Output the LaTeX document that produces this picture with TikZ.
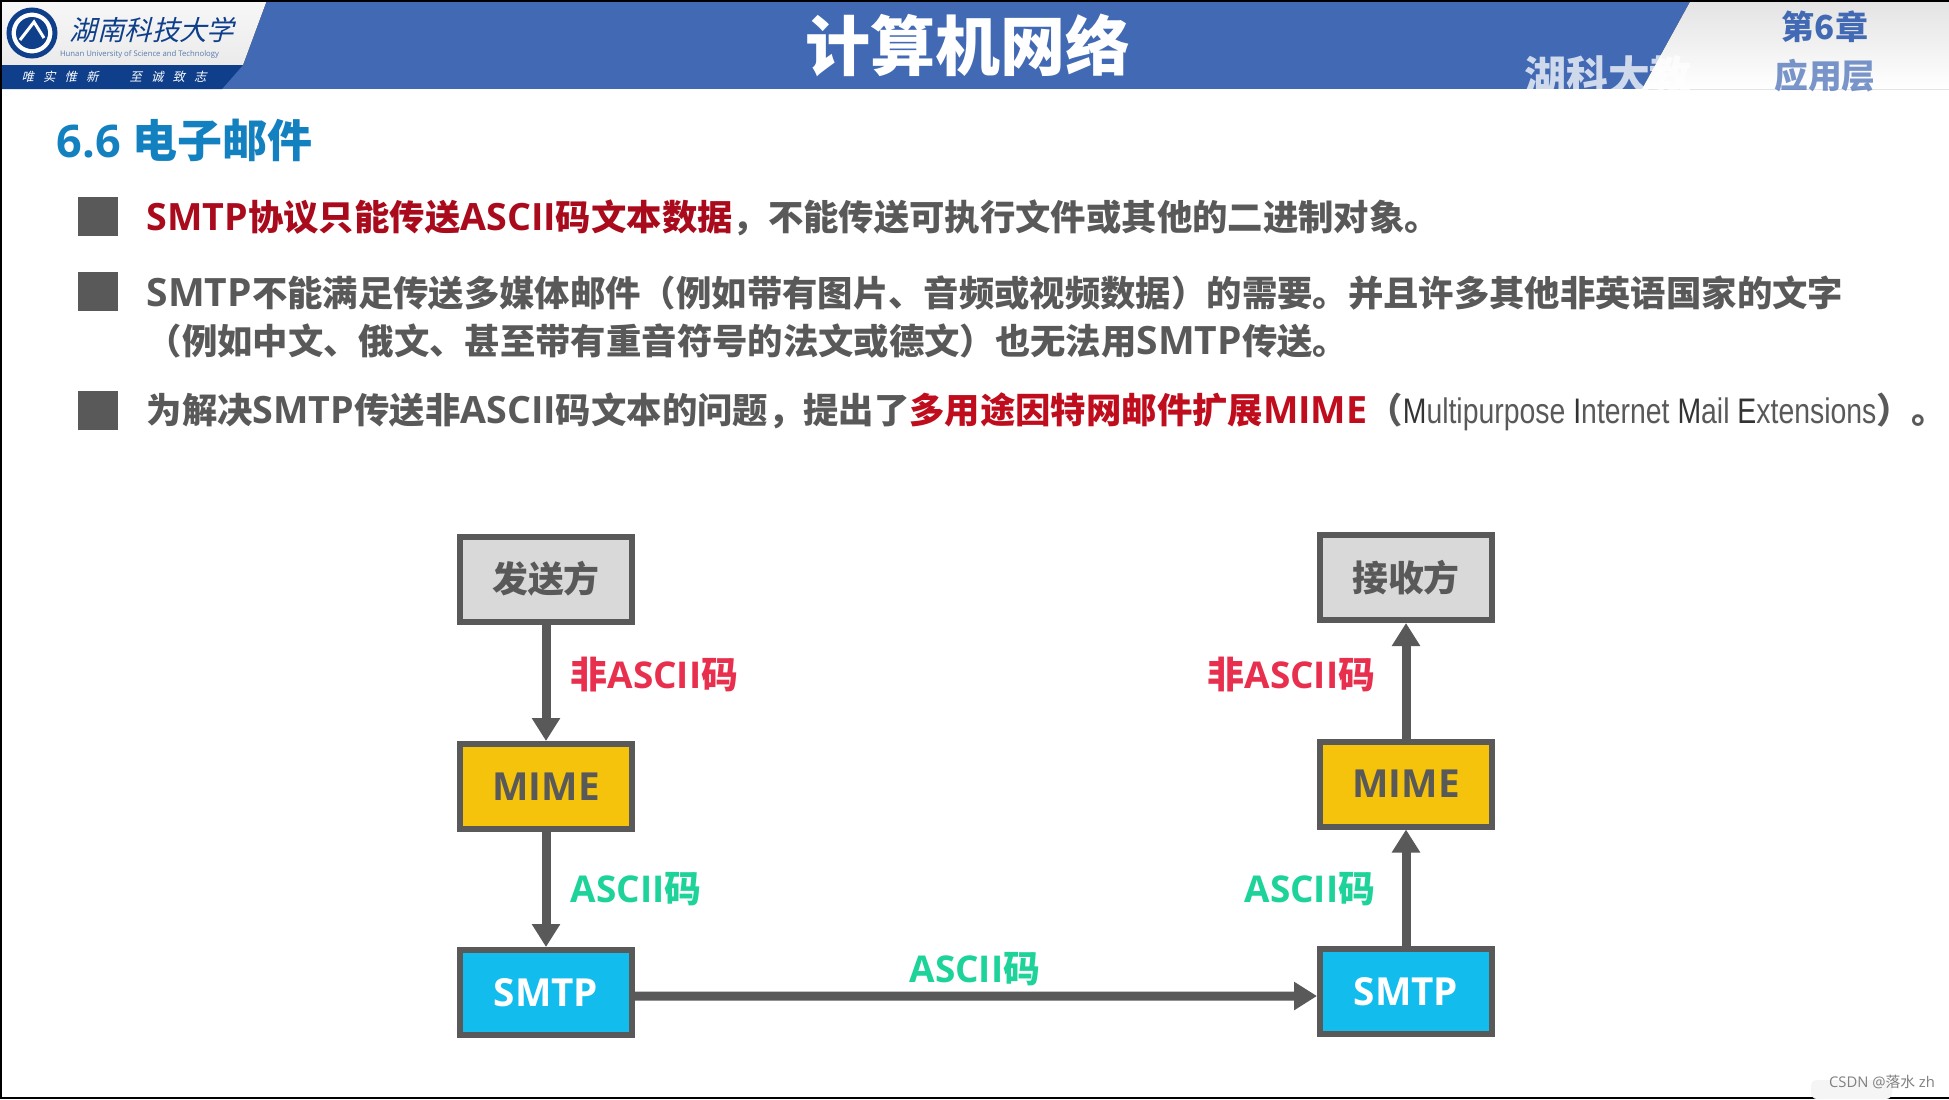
\documentclass[tikz,border=0pt]{standalone}
\usepackage{fontspec}
\usepackage{xcolor}
\usetikzlibrary{arrows.meta,calc}
\setmainfont{Open Sans}
\newfontfamily\cjk{Noto Sans CJK SC}
\newfontfamily\logofont[FakeSlant=0.25]{Noto Sans CJK SC}
\newfontfamily\narrowfont[FakeStretch=0.8]{Liberation Sans}
\newcommand{\zh}[1]{{\cjk #1}}
\newcommand{\bz}[1]{{\cjk\fontsize{10.06}{12}\selectfont #1}}
\newcommand{\initial}[1]{\textcolor{black!80}{#1}}
\definecolor{bandblue}{HTML}{4169B4}
\definecolor{navy}{HTML}{0F3F8A}
\definecolor{headblue}{HTML}{1380C0}
\definecolor{darkred}{HTML}{A90A1C}
\definecolor{brightred}{HTML}{C00D1E}
\definecolor{slate}{HTML}{595959}
\definecolor{boxgrey}{HTML}{D9D9D9}
\definecolor{boxyellow}{HTML}{F6C30C}
\definecolor{boxblue}{HTML}{12BDEE}
\definecolor{labelred}{HTML}{E8304E}
\definecolor{labelgreen}{HTML}{1ED39A}

\begin{document}
\begin{tikzpicture}[
  every node/.style={inner sep=0pt, align=center},
  unitbox/.style={draw=slate, line width=0.06cm, minimum width=1.72cm, minimum height=0.85cm,
    text=slate, font=\fontsize{11}{13}\selectfont\bfseries},
  partybox/.style={unitbox, fill=boxgrey, font=\fontsize{10.2}{12}\selectfont\bfseries},
  mimebox/.style={unitbox, fill=boxyellow},
  smtpbox/.style={unitbox, fill=boxblue, text=white},
  bodyline/.style={anchor=west, text=slate, font=\fontsize{11.1}{12}\selectfont\bfseries},
  tightline/.style={bodyline, font=\fontsize{10.7}{12}\selectfont\bfseries},
  codelabel/.style={font=\fontsize{10.5}{12}\selectfont\bfseries},
  flow/.style={draw=slate, line width=0.09cm, line cap=round,
    -{Triangle[length=0.23cm,width=0.27cm]}},
  bullet/.style={fill=slate, minimum width=0.4cm, minimum height=0.39cm}
]
\useasboundingbox (0,0) rectangle (19.49,-10.99);

% header
\fill[white] (0,0) rectangle (19.49,-10.99);
\fill[bandblue] (0,0) rectangle (19.49,-0.89);
\fill[top color=gray!22, bottom color=white] (16.91,0) -- (19.49,0) -- (19.49,-0.89) -- (16.42,-0.89) -- cycle;
\fill[top color=gray!6, bottom color=gray!16] (0,0) -- (2.67,0) -- (2.43,-0.65) -- (0,-0.65) -- cycle;
\fill[navy] (0,-0.65) -- (2.43,-0.65) -- (2.22,-0.89) -- (0,-0.89) -- cycle;
\draw[navy, line width=0.05cm, fill=white] (0.32,-0.33) circle (0.23);
\fill[navy] (0.32,-0.33) circle (0.16);
\draw[white, line width=0.03cm] (0.2,-0.4) -- (0.34,-0.22) -- (0.44,-0.38);
\node[text=navy, font=\logofont\fontsize{7.8}{9}\selectfont] (uni) at (1.52,-0.3) {湖南科技大学};
\node[text=navy!70, font=\fontsize{2.2}{2.6}\selectfont] (unien) at (1.395,-0.54) {Hunan University of Science and Technology};
\node[text=white, font=\logofont\fontsize{3.5}{4}\selectfont] (motto1) at (0.6,-0.77) {唯\hspace{0.75em}实\hspace{0.75em}惟\hspace{0.75em}新};
\node[text=white, font=\logofont\fontsize{3.5}{4}\selectfont] (motto2) at (1.68,-0.77) {至\hspace{0.75em}诚\hspace{0.75em}致\hspace{0.75em}志};
\node[text=white, font=\cjk\fontsize{18.5}{20}\selectfont\bfseries] (title) at (9.68,-0.45) {计算机网络};
\node[text=white, opacity=0.75, font=\cjk\fontsize{11.9}{13}\selectfont\bfseries] (mark) at (16.08,-0.76) {湖科大教};
\node[text=bandblue, font=\cjk\fontsize{9.4}{11}\selectfont\bfseries] (chap) at (18.25,-0.27) {第6章};
\node[text=bandblue, opacity=0.7, font=\cjk\fontsize{9.6}{11}\selectfont\bfseries] (layer) at (18.25,-0.76) {应用层};

% text
\node[anchor=west, text=headblue, font=\fontsize{12.8}{14}\selectfont\bfseries] (head) at (0.56,-1.4) {6.6 \zh{电子邮件}};
\node[bullet] (b1) at (0.98,-2.165) {};
\node[bullet] (b2) at (0.98,-2.915) {};
\node[bullet] (b3) at (0.98,-4.105) {};
\node[tightline] (l1) at (1.46,-2.18) {\textcolor{darkred}{SMTP\bz{协议只能传送}ASCII\bz{码文本数据}}\bz{，不能传送可执行文件或其他的二进制对象。}};
\node[bodyline] (l2) at (1.46,-2.93) {SMTP\bz{不能满足传送多媒体邮件（例如带有图片、音频或视频数据）的需要。并且许多其他非英语国家的文字}};
\node[bodyline] (l3) at (1.46,-3.41) {\bz{（例如中文、俄文、甚至带有重音符号的法文或德文）也无法用}SMTP\bz{传送。}};
\node[tightline] (l4) at (1.46,-4.12) {\bz{为解决}SMTP\bz{传送非}ASCII\bz{码文本的问题，提出了}\textcolor{brightred}{\bz{多用途因特网邮件扩展}MIME}\bz{（}{\mdseries\narrowfont\fontsize{10.1}{12}\selectfont \initial{M}ultipurpose \initial{I}nternet \initial{M}ail \initial{E}xtensions}\bz{）。}};

% boxes
\node[partybox] (sender) at (5.46,-5.79) {\zh{发送方}};
\node[mimebox] (mimeL) at (5.46,-7.865) {MIME};
\node[smtpbox] (smtpL) at (5.46,-9.925) {SMTP};
\node[partybox] (receiver) at (14.06,-5.775) {\zh{接收方}};
\node[mimebox] (mimeR) at (14.06,-7.84) {MIME};
\node[smtpbox] (smtpR) at (14.06,-9.915) {SMTP};

\draw[flow] (sender) -- (mimeL);
\draw[flow] (mimeL) -- (smtpL);
\draw[flow] ([yshift=-0.035cm]smtpL.east) -- ([yshift=-0.045cm]smtpR.west);
\draw[flow] (smtpR) -- (mimeR);
\draw[flow] (mimeR) -- (receiver);

% labels
\node[codelabel, text=labelred, anchor=west] (nonL) at (5.7,-6.75) {\zh{非}ASCII\zh{码}};
\node[codelabel, text=labelgreen, anchor=west] (asciiL) at (5.7,-8.89) {ASCII\zh{码}};
\node[codelabel, text=labelgreen] (asciiM) at (9.75,-9.69) {ASCII\zh{码}};
\node[codelabel, text=labelred, anchor=east] (nonR) at (13.76,-6.75) {\zh{非}ASCII\zh{码}};
\node[codelabel, text=labelgreen, anchor=east] (asciiR) at (13.76,-8.89) {ASCII\zh{码}};

% edges
\fill[black] (0,0) rectangle (19.49,-0.02);
\fill[black] (0,0) rectangle (0.02,-10.99);
\fill[black] (0,-10.97) rectangle (19.49,-10.99);
\fill[gray!8, rounded corners=0.06cm] (18.11,-10.99) rectangle (18.92,-10.8);
\node[text=gray, font=\fontsize{4.2}{5}\selectfont] (csdn) at (18.82,-10.82) {CSDN @\zh{落水} zh};
\end{tikzpicture}
\end{document}
